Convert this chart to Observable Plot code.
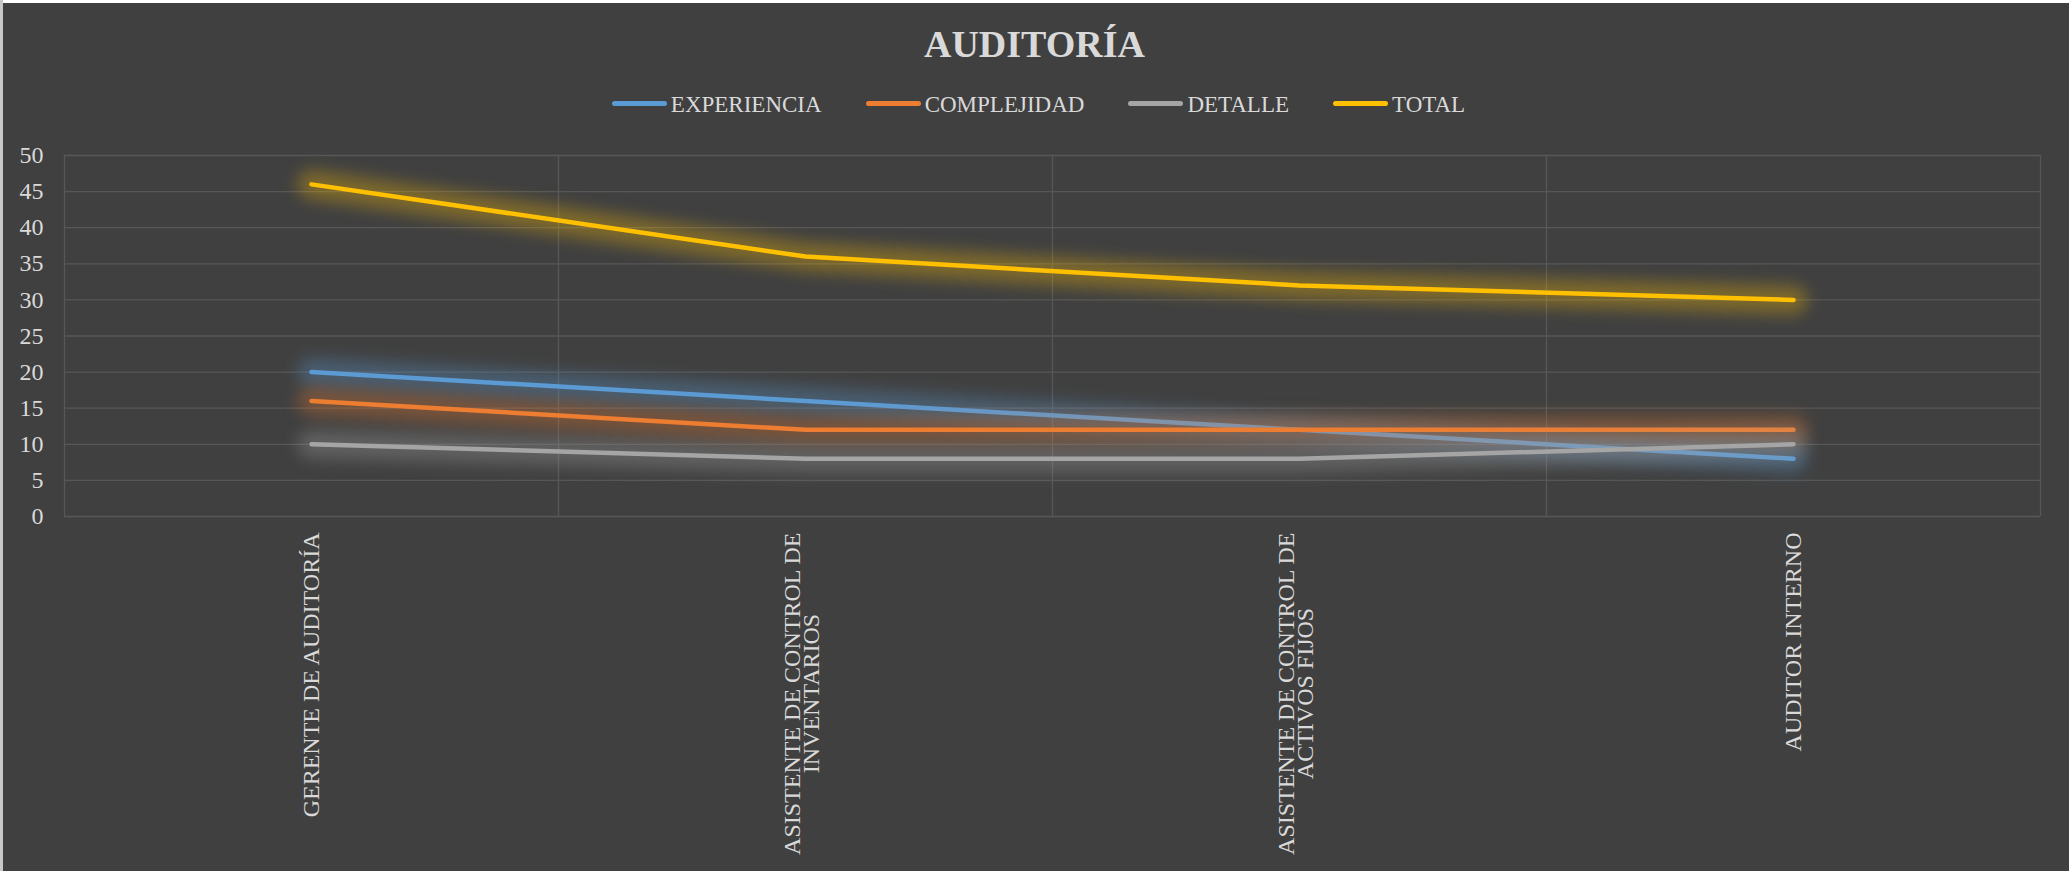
<!DOCTYPE html>
<html>
<head>
<meta charset="utf-8">
<script src="https://cdn.jsdelivr.net/npm/d3@7"></script>
<script src="https://cdn.jsdelivr.net/npm/@observablehq/plot@0.6"></script>
<style>
  html, body { margin: 0; padding: 0; background: #404040; }
  #wrap { position: relative; width: 2069px; height: 871px; background: #404040; overflow: hidden; font-family: "Liberation Serif", "Times New Roman", serif; color: #d9d9d9; }
  #wrap::before { content: ""; position: absolute; left: 0; top: 0; width: 2069px; height: 3px; background: #ffffff; z-index: 2; }
  #wrap::after { content: ""; position: absolute; left: 0; top: 0; width: 3px; height: 871px; background: #c8c8c8; z-index: 2; }
  #title { position: absolute; top: 25px; left: 0; width: 2069px; text-align: center; font-size: 38px; font-weight: bold; line-height: 1; color: #d9d9d9; }
  #legend { position: absolute; top: 93px; left: 4px; width: 2069px; display: flex; justify-content: center; gap: 44px; font-size: 23px; line-height: 1; }
  .item { display: flex; align-items: center; gap: 4px; }
  .sw { display: inline-block; width: 55px; height: 5px; border-radius: 3px; position: relative; top: -1px; }
  #chart { position: absolute; left: 0; top: 130px; }
  #chart g[stroke-width="28"] { filter: blur(8px); }
</style>
</head>
<body>
<div id="wrap">
  <div id="title"></div>
  <div id="legend"></div>
  <div id="chart"></div>
</div>
<script>
const chartTitle = "AUDITORÍA";
const categories = ["GERENTE DE AUDITORÍA", "ASISTENTE DE CONTROL DE INVENTARIOS", "ASISTENTE DE CONTROL DE ACTIVOS FIJOS", "AUDITOR INTERNO"];
const tickLines1 = ["GERENTE DE AUDITORÍA", "ASISTENTE DE CONTROL DE", "ASISTENTE DE CONTROL DE", "AUDITOR INTERNO"];
const tickLines2 = ["", "INVENTARIOS", "ACTIVOS FIJOS", ""];
const seriesNames = ["EXPERIENCIA", "COMPLEJIDAD", "DETALLE", "TOTAL"];
const seriesColors = ["#5b9bd5", "#ed7d31", "#a5a5a5", "#ffc000"];
const experiencia = [20, 16, 12, 8];
const complejidad = [16, 12, 12, 12];
const detalle = [10, 8, 8, 10];
const total = [46, 36, 32, 30];
const yTicks = [0, 5, 10, 15, 20, 25, 30, 35, 40, 45, 50];

const seriesValues = [experiencia, complejidad, detalle, total];

document.getElementById("title").textContent = chartTitle;
const legend = document.getElementById("legend");
seriesNames.forEach((name, k) => {
  const it = document.createElement("div");
  it.className = "item";
  const sw = document.createElement("span");
  sw.className = "sw";
  sw.style.background = seriesColors[k];
  const tx = document.createElement("span");
  tx.textContent = name;
  it.appendChild(sw);
  it.appendChild(tx);
  legend.appendChild(it);
});

const idx = categories.map((c, i) => i);
const singleIdx = idx.filter(i => !tickLines2[i]);
const doubleIdx = idx.filter(i => tickLines2[i]);
const bounds = categories.map((c, i) => i - 0.5).concat([categories.length - 0.5]);
const gridColor = "#575757";
const labelFill = "#d9d9d9";

const marks = [
  Plot.ruleY(yTicks, {stroke: gridColor, strokeWidth: 1.3}),
  Plot.ruleX(bounds, {y1: 0, y2: 50, stroke: gridColor, strokeWidth: 1.3}),
  Plot.axisY(yTicks, {tickSize: 0, tickPadding: 21, fontSize: 24, fill: labelFill, label: null}),
  Plot.axisX(singleIdx, {tickFormat: i => tickLines1[i], tickRotate: -90, tickSize: 0, tickPadding: 16, fontSize: 24, fill: labelFill, label: null}),
  Plot.axisX(doubleIdx, {tickFormat: i => tickLines1[i], tickRotate: -90, tickSize: 0, tickPadding: 16, fontSize: 24, fill: labelFill, label: null, dx: -13}),
  Plot.text(doubleIdx, {x: i => i, frameAnchor: "bottom", text: i => tickLines2[i], rotate: -90, textAnchor: "middle", dx: 13, dy: 177, fontSize: 24, fill: labelFill})
];
seriesValues.forEach((vals, k) => {
  marks.push(Plot.lineY(vals, {x: (d, i) => i, y: d => d, stroke: seriesColors[k], strokeWidth: 28, strokeOpacity: 0.33, strokeLinecap: "round"}));
  marks.push(Plot.lineY(vals, {x: (d, i) => i, y: d => d, stroke: seriesColors[k], strokeWidth: 4.5, strokeLinecap: "round", strokeLinejoin: "round"}));
});

const chart = Plot.plot({
  width: 2069,
  height: 738,
  marginLeft: 64,
  marginRight: 29,
  marginTop: 25,
  marginBottom: 352,
  style: {background: "transparent", color: "#d9d9d9", fontFamily: "'Liberation Serif', 'Times New Roman', serif", fontSize: "24px"},
  x: {type: "linear", domain: [-0.5, categories.length - 0.5], axis: null},
  y: {domain: [0, 50], axis: null},
  marks
});
document.getElementById("chart").appendChild(chart);
</script>
</body>
</html>
